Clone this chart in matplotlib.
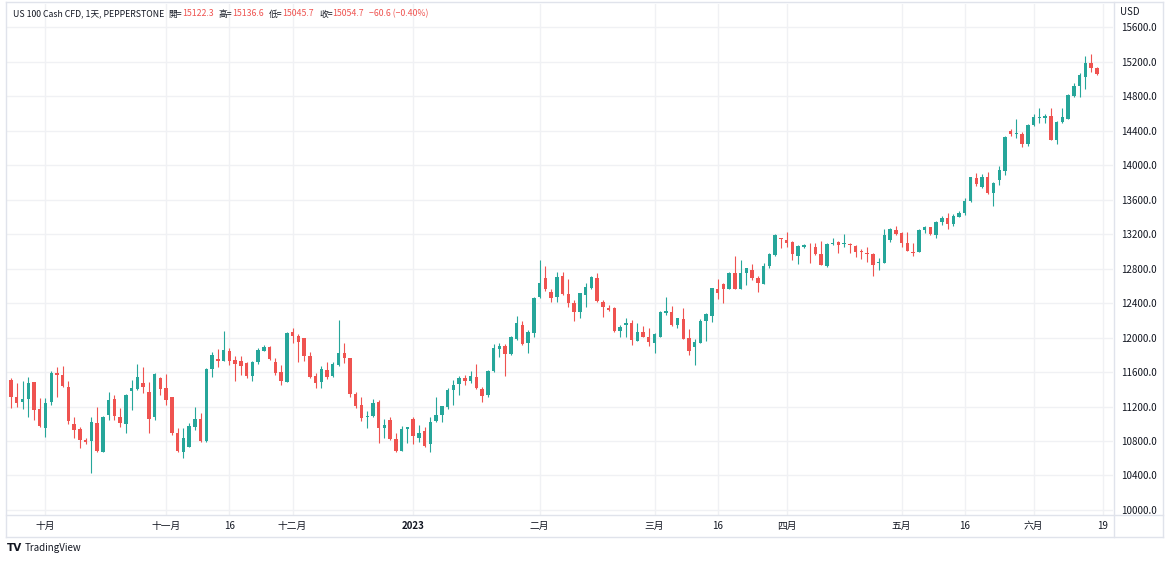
import pandas as pd
import matplotlib
matplotlib.use("Agg")
import matplotlib.pyplot as plt
from matplotlib.lines import Line2D

plt.rcParams['font.family'] = ['Noto Sans CJK SC', 'DejaVu Sans']

# daily OHLC, US 100 Cash CFD
opens = [11507, 11306, 11248, 11287, 11480, 11171, 10955, 11248, 11585, 11565,
         11430, 10997, 10935, 10812, 10800, 11013, 10676, 11101, 11283, 11082,
         10997, 11384, 11399, 11476, 11372, 11082, 11534, 11411, 11306, 10889,
         10672, 10734, 10966, 11055, 10804, 11631, 11747, 11731, 11844, 11739,
         11724, 11708, 11554, 11716, 11847, 11894, 11720, 11596, 11484, 12064,
         12021, 11990, 11789, 11554, 11484, 11623, 11558, 11681, 11822, 11758,
         11341, 11217, 11074, 11090, 11256, 10954, 11043, 10819, 10688, 10943,
         11055, 10835, 10916, 10761, 11036, 11101, 11198, 11391, 11457, 11534,
         11499, 11546, 11403, 11329, 11615, 11870, 11905, 11805, 11979, 12145,
         11932, 12056, 12466, 12686, 12524, 12466, 12713, 12504, 12404, 12299,
         12493, 12570, 12694, 12415, 12338, 12338, 12075, 12149, 12172, 11963,
         12068, 12010, 11940, 12010, 12288, 12292, 12145, 12214, 11990, 11894,
         11940, 12195, 12249, 12562, 12616, 12562, 12744, 12562, 12744, 12783,
         12694, 12620, 12829, 12957, 13150, 13130, 13111, 12945, 13045, 13065,
         13053, 12964, 12833, 13084, 13111, 13080, 13084, 13061, 13003, 12984,
         12964, 12860, 12868, 13130, 13246, 13208, 13092, 12991, 12995, 13246,
         13277, 13188, 13339, 13389, 13312, 13401, 13439, 13579, 13853, 13741,
         13865, 13671, 13826, 13934, 14398, 14363, 14355, 14243, 14460, 14541,
         14549, 14568, 14290, 14498, 14537, 14800, 14916, 15024, 15183, 15122.3]
highs = [11527, 11469, 11500, 11538, 11488, 11295, 11295, 11612, 11662, 11670,
         11500, 11074, 10966, 10831, 11082, 11190, 11090, 11372, 11333, 11179,
         11345, 11507, 11689, 11654, 11488, 11585, 11546, 11577, 11314, 10947,
         10947, 11005, 11190, 11121, 11643, 11836, 11863, 12079, 11874, 11789,
         11786, 11712, 11731, 11874, 11913, 11902, 11758, 11681, 12060, 12110,
         12041, 11998, 11828, 11585, 11670, 11720, 11720, 12200, 11942, 11766,
         11372, 11306, 11152, 11283, 11275, 11051, 11082, 10896, 10974, 10966,
         11082, 10985, 10958, 11082, 11306, 11210, 11410, 11507, 11553, 11565,
         11615, 11689, 11422, 11623, 11924, 11940, 11924, 12017, 12249, 12195,
         12087, 12473, 12898, 12829, 12558, 12763, 12763, 12674, 12435, 12520,
         12636, 12713, 12744, 12435, 12377, 12350, 12145, 12230, 12203, 12172,
         12133, 12106, 12048, 12311, 12466, 12365, 12230, 12338, 12095, 11979,
         12214, 12280, 12578, 12674, 12636, 12763, 12945, 12899, 12810, 12848,
         12717, 12868, 12984, 13196, 13157, 13219, 13123, 13072, 13080, 13100,
         13092, 13123, 13100, 13150, 13123, 13200, 13100, 13072, 13022, 13045,
         12976, 12926, 13258, 13266, 13297, 13227, 13227, 13100, 13254, 13297,
         13285, 13351, 13409, 13439, 13432, 13470, 13613, 13865, 13903, 13896,
         13923, 13807, 13992, 14336, 14413, 14533, 14386, 14475, 14591, 14657,
         14591, 14657, 14510, 14665, 14823, 14947, 15063, 15264, 15283, 15136.6]
lows = [11179, 11198, 11167, 11082, 11043, 10958, 10842, 11217, 11306, 11430,
        10997, 10831, 10715, 10765, 10433, 10676, 10676, 11043, 11043, 10966,
        10897, 11159, 11391, 11360, 10889, 11043, 11333, 11217, 10870, 10676,
        10607, 10734, 10928, 10792, 10792, 11546, 11662, 11725, 11681, 11496,
        11565, 11527, 11496, 11693, 11844, 11739, 11565, 11449, 11480, 11932,
        11720, 11731, 11527, 11411, 11411, 11515, 11538, 11670, 11700, 11306,
        11179, 11036, 10947, 11082, 10781, 10831, 10811, 10676, 10685, 10773,
        10765, 10792, 10734, 10676, 11024, 11024, 11167, 11217, 11333, 11449,
        11476, 11399, 11256, 11314, 11604, 11778, 11553, 11797, 11971, 11913,
        11816, 12002, 12454, 12543, 12415, 12415, 12493, 12357, 12195, 12230,
        12357, 12558, 12415, 12234, 12311, 12068, 12002, 12002, 11913, 11959,
        12002, 11905, 11816, 12002, 12261, 12133, 12106, 11979, 11797, 11681,
        11932, 11963, 12183, 12446, 12396, 12558, 12558, 12558, 12609, 12667,
        12524, 12616, 12810, 12949, 13034, 13053, 12899, 12848, 13040, 12860,
        12957, 12835, 12821, 13072, 12984, 13053, 12976, 12929, 12910, 12879,
        12717, 12783, 12860, 13111, 13188, 13045, 13003, 12945, 12987, 13208,
        13188, 13150, 13304, 13254, 13293, 13393, 13420, 13571, 13760, 13729,
        13664, 13528, 13764, 13884, 14336, 14309, 14212, 14220, 14452, 14483,
        14483, 14285, 14243, 14491, 14529, 14784, 14792, 14881, 15082, 15045.7]
closes = [11314, 11244, 11287, 11476, 11159, 10974, 11244, 11592, 11565, 11442,
          11036, 10928, 10812, 10788, 11016, 10684, 11082, 11271, 11094, 11005,
          11333, 11411, 11542, 11430, 11059, 11577, 11403, 11275, 10897, 10684,
          10839, 10974, 11051, 10800, 11635, 11797, 11724, 11855, 11724, 11697,
          11673, 11554, 11720, 11855, 11894, 11751, 11592, 11492, 12056, 12014,
          11944, 11789, 11546, 11476, 11631, 11538, 11693, 11824, 11760, 11345,
          11206, 11070, 11090, 11244, 10947, 10985, 10819, 10688, 10939, 10958,
          10862, 10896, 10746, 11020, 11101, 11206, 11391, 11449, 11534, 11496,
          11553, 11410, 11325, 11611, 11874, 11905, 11809, 12002, 12164, 11924,
          12060, 12454, 12628, 12558, 12454, 12698, 12504, 12404, 12292, 12512,
          12582, 12705, 12427, 12350, 12319, 12075, 12125, 12164, 11971, 12068,
          12010, 11952, 12037, 12299, 12307, 12145, 12222, 11982, 11847, 11944,
          12191, 12268, 12570, 12512, 12562, 12744, 12562, 12744, 12802, 12686,
          12628, 12833, 12968, 13188, 13138, 13100, 12964, 13061, 13072, 13057,
          12964, 12841, 13084, 13100, 13072, 13092, 13069, 12991, 12987, 12964,
          12837, 12875, 13188, 13254, 13200, 13092, 13007, 12976, 13246, 13285,
          13196, 13343, 13381, 13316, 13409, 13447, 13586, 13857, 13780, 13865,
          13679, 13787, 13942, 14328, 14359, 14375, 14243, 14460, 14556, 14553,
          14564, 14290, 14502, 14553, 14812, 14916, 15047, 15179, 15121, 15054.7]

# trading days shown (Christmas holiday missing)
dates = pd.bdate_range("2022-09-23", "2023-06-19")
dates = dates[dates != pd.Timestamp("2022-12-26")]

tick_dates = ["2022-10-03", "2022-11-01", "2022-11-16", "2022-12-01", "2023-01-02",
              "2023-02-01", "2023-03-01", "2023-03-16", "2023-04-03", "2023-05-01",
              "2023-05-16", "2023-06-01", "2023-06-19"]
tick_labels = ["十月", "十一月", "16", "十二月", "2023", "二月", "三月", "16",
               "四月", "五月", "16", "六月", "19"]
price_ticks = list(range(10000, 15601, 400))

UP = "#26a69a"
DOWN = "#ef5350"
GRID = "#f0f1f4"
TEXT = "#131722"
BORDER = "#e0e3eb"

W, H = 1165, 561
fig = plt.figure(figsize=(W / 100, H / 100), dpi=100)
ax = fig.add_axes([7 / W, 1 - 515 / H, (1113 - 7) / W, (515 - 4) / H])

x = list(range(len(opens)))
colors = [UP if c >= o else DOWN for o, c in zip(opens, closes)]
bottoms = [min(o, c) for o, c in zip(opens, closes)]
heights = [max(abs(c - o), 9) for o, c in zip(opens, closes)]

ax.vlines(x, lows, highs, colors=colors, linewidth=0.8, zorder=2)
ax.bar(x, heights, bottom=bottoms, width=0.6, color=colors, linewidth=0, zorder=3)

ax.set_xlim(-0.7, 191.8)
ax.set_ylim(9942, 15867)

xt = [dates.get_loc(pd.Timestamp(d)) for d in tick_dates]
ax.set_xticks(xt, tick_labels)
ax.set_yticks(price_ticks, [f"{p:.1f}" for p in price_ticks])
ax.yaxis.tick_right()
ax.tick_params(length=0, labelsize=7, colors=TEXT)
ax.tick_params(axis="x", pad=4)
ax.tick_params(axis="y", pad=6)
ax.get_xticklabels()[4].set_fontweight("bold")
ax.grid(True, color=GRID, linewidth=1)
ax.set_axisbelow(True)
for s in ax.spines.values():
    s.set_visible(False)

# frame and separators
def hline(y, x0, x1):
    fig.add_artist(Line2D([x0 / W, x1 / W], [1 - y / H, 1 - y / H], color=BORDER, lw=1))

def vline(xp, y0, y1):
    fig.add_artist(Line2D([xp / W, xp / W], [1 - y0 / H, 1 - y1 / H], color=BORDER, lw=1))

hline(2, 6, 1163)
hline(515, 6, 1163)
hline(537, 6, 1163)
vline(6, 2, 537)
vline(1113.5, 2, 537)
vline(1163, 2, 537)

fig.text(1120 / W, 1 - 12 / H, "USD", fontsize=7, color=TEXT, va="center")

# header line, pieces chained left to right
renderer = fig.canvas.get_renderer()
pieces = [("US 100 Cash CFD, 1天, PEPPERSTONE", TEXT, 0),
          ("開=", TEXT, 4), (f"{opens[-1]:.1f}", DOWN, 0),
          ("高=", TEXT, 5), (f"{highs[-1]:.1f}", DOWN, 0),
          ("低=", TEXT, 5), (f"{lows[-1]:.1f}", DOWN, 0),
          ("收=", TEXT, 5), (f"{closes[-1]:.1f}", DOWN, 0),
          ("−60.6 (−0.40%)", DOWN, 5)]
xpos = 13
for txt, col, gap in pieces:
    xpos += gap
    t = fig.text(xpos / W, 1 - 14 / H, txt, fontsize=6.3, color=col, va="center")
    bb = t.get_window_extent(renderer)
    xpos = bb.x1

# TradingView mark
fig.text(7 / W, 1 - 548 / H, "TV", fontsize=7.5, fontweight="heavy", color=TEXT,
         va="center", family="DejaVu Sans")
fig.text(25 / W, 1 - 548 / H, "TradingView", fontsize=7, color=TEXT, va="center")

fig.savefig("out.png", dpi=100)
